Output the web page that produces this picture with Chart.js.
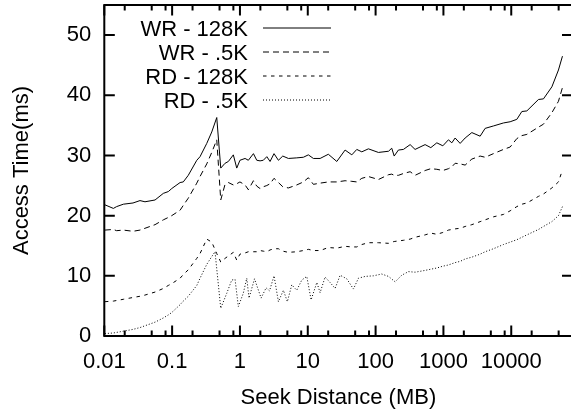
<!DOCTYPE html>
<html><head><meta charset="utf-8">
<script src="https://cdn.jsdelivr.net/npm/chart.js@4.4.1/dist/chart.umd.min.js"></script>
<style>html,body{margin:0;padding:0;background:#fff;overflow:hidden;width:571px;height:413px}
#wrap{width:575px;height:413px;position:relative}</style>
</head><body><div id="wrap"><canvas id="c" width="575" height="413"></canvas></div>
<script>
// Seek distance (MB) sample positions shared by the first three series
const seekMB = [0.0102,0.0136,0.0152,0.0191,0.0265,0.0336,0.0398,0.0560,0.0742,0.0879,
  0.0987,0.131,0.146,0.173,0.231,0.258,0.324,0.384,0.455,0.521,
  0.603,0.675,0.799,0.897,1.00,1.19,1.33,1.58,1.77,1.98,
  2.21,2.49,2.78,3.18,3.69,4.28,5.18,6.88,8.61,10.2,
  12.1,15.2,20.1,26.8,35.5,44.6,52.8,62.6,78.3,110,
  155,173,188,217,257,323,382,537,652,799,
  980,1185,1330,1488,1764,2090,2624,3478,4121,5465,
  7674,9634,12090,14330,16990,25190,29850,39710,49680,56910];
// Access time (ms)
const wr128 = [21.8,21.2,21.5,21.9,22.1,22.5,22.3,22.6,23.7,24.0,
  24.5,25.5,25.6,26.7,29.2,29.8,32.0,33.9,36.3,27.9,
  28.7,29.0,30.1,27.9,29.2,29.5,29.2,30.3,29.2,29.1,
  29.2,29.8,29.0,30.3,29.2,29.9,29.5,29.6,29.7,30.1,
  29.5,29.5,30.2,29.0,30.9,30.1,31.0,30.6,31.1,30.5,
  30.7,31.2,29.9,30.9,31.0,31.8,31.0,31.8,31.3,32.1,
  31.6,32.6,32.1,32.9,32.0,32.9,33.8,33.2,34.5,34.9,
  35.4,35.6,36.0,37.3,37.4,39.3,39.4,41.4,44.2,46.5];
const wr05 = [17.6,17.7,17.5,17.6,17.4,17.6,17.9,18.5,19.3,19.7,
  20.0,20.9,21.7,22.9,25.4,26.5,28.6,30.5,32.6,22.6,
  25.2,25.5,25.1,25.3,25.6,25.1,24.3,25.8,24.9,24.5,
  24.8,25.0,25.3,26.2,25.5,24.8,24.6,25.1,25.6,26.3,
  25.2,25.4,25.6,25.6,25.8,25.7,25.6,26.2,26.5,26.0,
  26.8,26.9,26.7,26.7,27.0,27.3,26.7,27.5,27.8,27.7,
  27.5,27.8,28.1,28.7,28.6,28.4,29.4,29.9,29.7,30.3,
  31.0,31.4,32.8,33.3,33.5,34.7,35.2,37.1,39.0,41.3];
const rd128 = [5.7,5.8,5.9,6.1,6.4,6.6,6.8,7.3,7.9,8.4,
  8.7,9.6,10.2,11.0,12.9,13.7,16.1,15.6,13.7,12.3,
  12.9,13.3,13.9,12.6,13.6,13.8,14.0,14.0,14.0,14.2,
  14.1,14.0,14.3,14.5,14.5,14.1,13.9,14.0,14.2,14.4,
  14.2,14.2,14.7,14.6,14.9,14.8,14.8,15.2,15.5,15.5,
  15.4,15.6,15.7,15.8,15.9,16.1,16.4,16.8,17.1,16.9,
  17.2,17.6,17.7,17.8,17.9,18.2,18.5,19.0,19.3,19.8,
  20.2,20.8,21.5,21.9,22.1,23.2,23.6,24.6,25.6,27.6];
// RD - .5K has its own (denser) sample positions
const seekMBRd05 = [0.0102,0.0136,0.0152,0.0191,0.0265,0.0336,0.0398,0.0560,0.0742,0.0879,
  0.0987,0.131,0.146,0.173,0.231,0.258,0.324,0.384,0.429,0.521,
  0.639,0.757,0.847,0.947,1.12,1.26,1.36,1.64,2.05,2.43,
  2.73,3.18,3.69,4.37,5.00,5.81,6.88,8.16,9.67,11.2,
  13.6,15.2,18.0,21.3,25.3,30.0,37.6,47.1,55.8,70.0,
  92.8,123,155,194,243,305,382,537,652,799,
  980,1185,1488,1764,2090,2624,3478,4121,5465,7674,
  9634,12090,14330,16990,25190,29850,39710,49680,56910];
const rd05 = [0.4,0.5,0.6,0.8,1.1,1.4,1.7,2.3,3.0,3.5,
  3.9,5.2,5.8,6.6,8.4,9.6,11.9,13.2,14.0,4.6,
  7.1,9.3,9.4,4.9,7.1,9.6,6.3,9.5,6.3,8.0,
  7.5,10.0,5.7,7.6,5.7,8.5,7.6,9.3,9.9,6.0,
  8.9,7.2,9.8,8.9,7.9,10.1,9.5,7.8,9.6,9.9,
  10.0,10.3,9.9,9.0,10.1,10.7,10.6,10.9,11.1,11.3,
  11.6,11.8,12.2,12.4,12.8,13.1,13.6,14.0,14.5,15.2,
  15.6,16.0,16.4,16.8,17.7,18.2,19.0,20.0,21.5];
const seriesLabels = ['WR - 128K', 'WR - .5K', 'RD - 128K', 'RD - .5K'];
const xTickValues = [0.01, 0.1, 1, 10, 100, 1000, 10000];
const xTickLabels = ['0.01', '0.1', '1', '10', '100', '1000', '10000'];
const xMinorTicks = [0.02,0.05,0.08,0.2,0.5,0.8,2,5,8,20,50,80,200,500,800,2000,5000,8000,20000,50000];
const yTickValues = [0, 10, 20, 30, 40, 50];

const FONT = 'Liberation Sans';
Chart.defaults.font.family = FONT;
Chart.defaults.color = '#000';

const dashes = [[], [6, 4], [3.5, 4.5], [1, 2]];
const seriesX = [seekMB, seekMB, seekMB, seekMBRd05];
const seriesValues = [wr128, wr05, rd128, rd05];

const frame = {
  id: 'frame',
  beforeDatasetsDraw(chart) {
    const {ctx, chartArea: a, scales: {x, y}} = chart;
    ctx.save();
    ctx.strokeStyle = '#000';
    ctx.lineWidth = 2;
    ctx.beginPath();
    const major = 10.5, minor = 5.5;
    for (const v of xTickValues) {
      const p = x.getPixelForValue(v);
      ctx.moveTo(p, a.bottom); ctx.lineTo(p, a.bottom - major);
      ctx.moveTo(p, a.top); ctx.lineTo(p, a.top + major);
    }
    for (const v of xMinorTicks) {
      const p = x.getPixelForValue(v);
      if (p > a.right) continue;
      ctx.moveTo(p, a.bottom); ctx.lineTo(p, a.bottom - minor);
      ctx.moveTo(p, a.top); ctx.lineTo(p, a.top + minor);
    }
    for (const v of yTickValues) {
      const p = y.getPixelForValue(v);
      ctx.moveTo(a.left, p); ctx.lineTo(a.left + major, p);
      ctx.moveTo(a.right, p); ctx.lineTo(a.right - major, p);
    }
    ctx.stroke();
    ctx.strokeRect(a.left, a.top, a.right - a.left, a.bottom - a.top);
    ctx.restore();
  }
};

const keyBox = {
  id: 'keyBox',
  afterDatasetsDraw(chart) {
    const {ctx} = chart;
    ctx.save();
    ctx.font = '22px "' + FONT + '"';
    ctx.fillStyle = '#000';
    ctx.textAlign = 'right';
    ctx.textBaseline = 'alphabetic';
    chart.data.datasets.forEach((ds, i) => {
      const yy = 27.5 + i * 24;
      ctx.fillText(ds.label, 248, yy + 8.5);
      ctx.strokeStyle = '#000';
      ctx.lineWidth = 1;
      ctx.setLineDash(ds.borderDash);
      ctx.beginPath();
      ctx.moveTo(263, yy + 0.5); ctx.lineTo(331, yy + 0.5);
      ctx.stroke();
    });
    ctx.restore();
  }
};

function noPad(s) { s.paddingTop = 0; s.paddingBottom = 0; s.paddingLeft = 0; s.paddingRight = 0; }

new Chart(document.getElementById('c'), {
  type: 'line',
  data: {
    datasets: seriesLabels.map((lab, i) => ({
      label: lab,
      data: seriesX[i].map((xv, j) => ({x: xv, y: seriesValues[i][j]})),
      borderColor: '#000',
      borderWidth: 1,
      borderDash: dashes[i],
      pointRadius: 0,
      tension: 0,
      fill: false
    }))
  },
  options: {
    responsive: false,
    animation: false,
    devicePixelRatio: 1,
    layout: {padding: {top: 5, right: 2.5, left: 0, bottom: 0}},
    plugins: {legend: {display: false}, tooltip: {enabled: false}},
    scales: {
      x: {
        type: 'logarithmic', min: 0.01, max: 80000,
        grid: {display: false, drawTicks: false},
        border: {display: false},
        afterBuildTicks: s => { s.ticks = xTickValues.map(v => ({value: v})); },
        afterFit: s => { s.height = 77; noPad(s); },
        ticks: {autoSkip: false, maxRotation: 0, padding: 13, color: '#000',
          font: {size: 22, lineHeight: 1.2},
          callback: (v, i) => xTickLabels[i]},
        title: {display: true, text: 'Seek Distance (MB)', color: '#000',
          font: {size: 22, lineHeight: 1.2}, padding: {top: 0, bottom: 2}}
      },
      y: {
        min: 0, max: 55,
        grid: {display: false, drawTicks: false},
        border: {display: false},
        afterBuildTicks: s => { s.ticks = yTickValues.map(v => ({value: v})); },
        afterFit: s => { s.width = 104.3; noPad(s); },
        ticks: {padding: 13, color: '#000', font: {size: 22, lineHeight: 1.2}},
        title: {display: true, text: 'Access Time(ms)', color: '#000',
          font: {size: 22, lineHeight: 1.2}, padding: {top: 9, bottom: 0}}
      }
    }
  },
  plugins: [frame, keyBox]
});
</script>
</body></html>
